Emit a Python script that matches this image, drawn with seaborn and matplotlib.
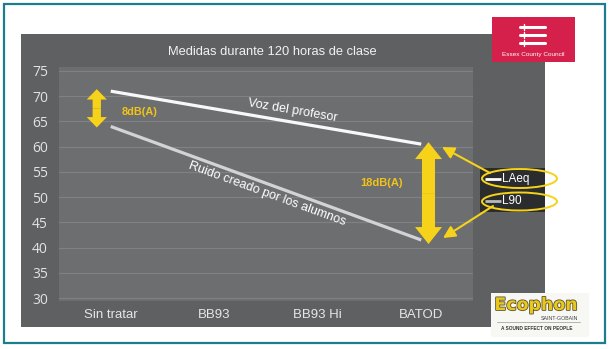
import numpy as np
import pandas as pd
import matplotlib
matplotlib.use("Agg")
import matplotlib.pyplot as plt
import seaborn as sns
from matplotlib.patches import Rectangle, Ellipse, FancyArrowPatch
import matplotlib.patheffects as pe

# ---------------- data ----------------
categories = ["Sin tratar", "BB93", "BB93 Hi", "BATOD"]
voz_cats = ["Sin tratar", "BATOD"]
voz_values = [71, 60.5]          # LAeq - Voz del profesor
ruido_cats = ["Sin tratar", "BATOD"]
ruido_values = [64, 41.5]        # L90 - Ruido creado por los alumnos
y_ticks = [30, 35, 40, 45, 50, 55, 60, 65, 70, 75]
title = "Medidas durante 120 horas de clase"
series_names = ["Voz del profesor", "Ruido creado por los alumnos"]
legend_labels = ["LAeq", "L90"]
diff_labels = ["8dB(A)", "18dB(A)"]

# ---------------- style ----------------
sns.set_theme(style="white")
plt.rcParams['font.family'] = ['Liberation Sans', 'DejaVu Sans']

W, H = 612, 349
YELLOW = '#f6d21a'
fig = plt.figure(figsize=(W / 100, H / 100), dpi=100)
fig.patch.set_facecolor('white')

# background overlay in pixel coordinates (y down)
bg = fig.add_axes([0, 0, 1, 1], zorder=0)
bg.set_xlim(0, W); bg.set_ylim(H, 0); bg.axis('off')
bg.add_patch(Rectangle((3.5, 3.5), 601, 339.5, fill=False, ec='#1c7d8c', lw=1.6))
bg.add_patch(Rectangle((21, 34), 524, 293, fc='#5e6062', ec='none'))
bg.text(272, 52, title, ha='center', va='center', color='#f2f2f2', fontsize=9.3)

# ---------------- main chart ----------------
ax = fig.add_axes([59 / W, (H - 301) / H, 414 / W, 234 / H], zorder=1)
pos = {c: i for i, c in enumerate(categories)}
df = pd.DataFrame({
    'cat': voz_cats + ruido_cats,
    'valor': voz_values + ruido_values,
    'serie': [series_names[0]] * len(voz_cats) + [series_names[1]] * len(ruido_cats),
})
df['pos'] = df['cat'].map(pos)
sns.lineplot(data=df, x='pos', y='valor', hue='serie',
             palette={series_names[0]: '#f8f8f8', series_names[1]: '#d2d3d4'},
             linewidth=2.3, legend=False, ax=ax, sort=False)
for l in ax.lines:
    l.set_solid_capstyle('butt')

ax.set_facecolor('#6c6e70')
ax.set_xlim(-0.5, 3.5)
ax.set_ylim(29.41, 75.79)
ax.set_yticks(y_ticks)
ax.set_yticklabels([str(t) for t in y_ticks], color='#e2e2e2', fontsize=10,
                   family=['Open Sans', 'DejaVu Sans'])
ax.set_xticks(range(len(categories)))
ax.set_xticklabels(categories, color='#e6e6e6', fontsize=9.5)
ax.tick_params(axis='both', length=0)
ax.tick_params(axis='y', pad=8)
ax.tick_params(axis='x', pad=6)
ax.set_xlabel(''); ax.set_ylabel('')
ax.grid(axis='y', color='#7f8183', lw=0.8)
ax.grid(axis='x', visible=False)
for s in ax.spines.values():
    s.set_visible(False)

# line labels, rotated along the lines
def angle_of(xs, ys):
    p1 = ax.transData.transform((pos[xs[0]], ys[0]))
    p2 = ax.transData.transform((pos[xs[-1]], ys[-1]))
    return np.degrees(np.arctan2(p2[1] - p1[1], p2[0] - p1[0]))

def val_at(xs, ys, x):
    return np.interp(x, [pos[xs[0]], pos[xs[-1]]], ys)

a1 = angle_of(voz_cats, voz_values)
ax.text(1.76, val_at(voz_cats, voz_values, 1.76) + 2.2, series_names[0],
        rotation=a1, rotation_mode='anchor', ha='center', va='center',
        color='white', fontsize=9)
a2 = angle_of(ruido_cats, ruido_values)
ax.text(1.51, val_at(ruido_cats, ruido_values, 1.51) - 2.0, series_names[1],
        rotation=a2, rotation_mode='anchor', ha='center', va='center',
        color='white', fontsize=9)

# double-headed yellow arrows
def double_arrow(x, y_top, y_bot, hw, hl, tw):
    mid = (y_top + y_bot) / 2
    style = f"simple,head_width={hw},head_length={hl},tail_width={tw}"
    for tgt in (y_top, y_bot):
        ax.add_patch(FancyArrowPatch((x, mid), (x, tgt), arrowstyle=style,
                                     mutation_scale=1, fc=YELLOW, ec='none',
                                     shrinkA=0, shrinkB=0, clip_on=False, zorder=5))

double_arrow(-0.135, voz_values[0] + 0.4, ruido_values[0] - 0.2, 14.5, 7.5, 6.0)
double_arrow(3.07, voz_values[1] + 0.4, ruido_values[1] - 0.8, 19.4, 12.2, 9.4)
ax.text(0.283, 66.9, diff_labels[0], ha='center', va='center', color='#f2c417',
        fontsize=7.8, fontweight='bold')
ax.text(2.62, 52.8, diff_labels[1], ha='center', va='center', color='#f2c417',
        fontsize=8, fontweight='bold')

# ---------------- foreground overlay (legend, logos) ----------------
fg = fig.add_axes([0, 0, 1, 1], zorder=2)
fg.set_xlim(0, W); fg.set_ylim(H, 0); fg.axis('off'); fg.patch.set_alpha(0)

# legend box
fg.add_patch(Rectangle((480, 168), 65, 44, fc='#2b2c2d', ec='none'))
fg.plot([485, 501], [179, 179], color='white', lw=2, solid_capstyle='butt')
fg.plot([485, 501], [201, 201], color='#b9babb', lw=2, solid_capstyle='butt')
fg.text(502, 179, legend_labels[0], ha='left', va='center', color='white', fontsize=8.5)
fg.text(502, 201, legend_labels[1], ha='left', va='center', color='white', fontsize=8.5)
fg.add_patch(Ellipse((519.5, 178.5), 75, 19, fill=False, ec=YELLOW, lw=1.4))
fg.add_patch(Ellipse((519.5, 201.5), 75, 18, fill=False, ec=YELLOW, lw=1.4))
fg.annotate('', xy=(442, 147), xytext=(490, 173),
            arrowprops=dict(arrowstyle='-|>,head_length=0.6,head_width=0.3',
                            color=YELLOW, lw=1.5, shrinkA=0, shrinkB=0))
fg.annotate('', xy=(443, 238), xytext=(493, 206),
            arrowprops=dict(arrowstyle='-|>,head_length=0.6,head_width=0.3',
                            color=YELLOW, lw=1.5, shrinkA=0, shrinkB=0))

# Essex County Council logo
fg.add_patch(Rectangle((492, 17), 83, 45, fc='#d4204a', ec='none'))
for yy in (27, 35, 43):
    fg.plot([520, 545], [yy, yy], color='white', lw=2.2, solid_capstyle='round')
    fg.plot([524, 524], [yy - 3, yy + 3], color='white', lw=1)
fg.text(533.5, 54.5, "Essex County Council", ha='center', va='center',
        color='white', fontsize=4.6)

# Ecophon logo
fg.add_patch(Rectangle((491, 293), 98, 44, fc='#f7f7f4', ec='none'))
fg.text(536, 305, "Ecophon", ha='center', va='center', color='#e9c81c',
        fontsize=12.5, fontweight='bold', family=['DejaVu Sans'],
        path_effects=[pe.withStroke(linewidth=1.2, foreground='#5a5230')])
fg.text(578, 318, "SAINT-GOBAIN", ha='right', va='center', color='#444444', fontsize=3.8)
fg.plot([497, 580], [321.5, 321.5], color='#999999', lw=0.5)
fg.text(537, 328, "A SOUND EFFECT ON PEOPLE", ha='center', va='center',
        color='#333333', fontsize=3.4, fontweight='bold')

fig.savefig('out.png', dpi=100, facecolor='white')
